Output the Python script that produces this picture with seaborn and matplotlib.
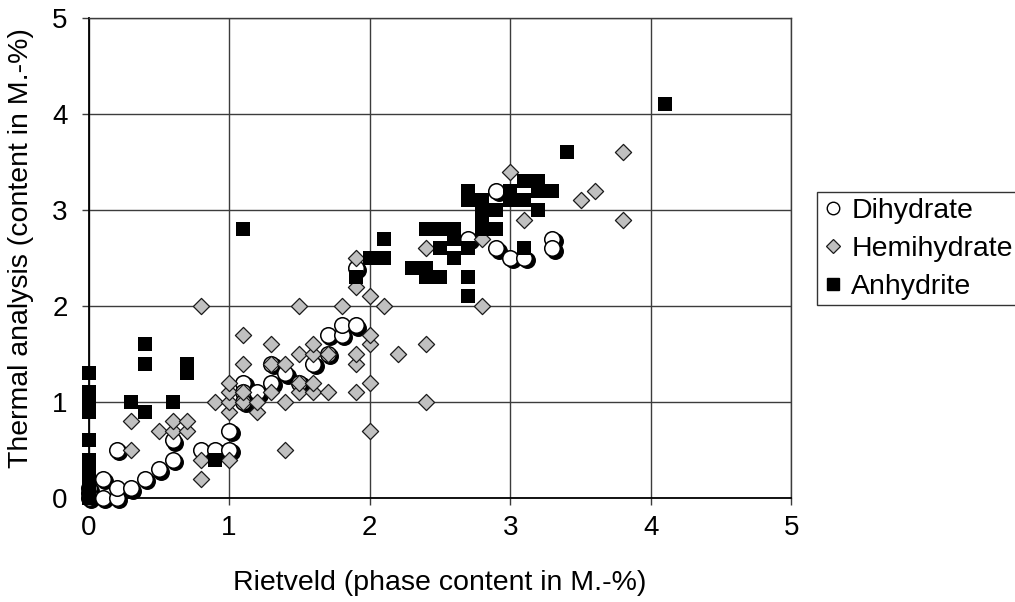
import matplotlib
matplotlib.use("Agg")
import matplotlib.pyplot as plt
import matplotlib.transforms as mtransforms
from matplotlib.lines import Line2D
import pandas as pd
import seaborn as sns

# Dihydrate: Rietveld vs. thermal analysis (M.-%)
dihydrate_x = [0.0, 0.0, 0.0, 0.1, 0.1, 0.2, 0.2, 0.2, 0.3, 0.4, 0.5, 0.6, 0.6, 0.8,
               0.9, 1.0, 1.0, 1.1, 1.1, 1.1, 1.2, 1.3, 1.3, 1.4, 1.5, 1.6, 1.7, 1.7,
               1.8, 1.8, 1.9, 1.9, 2.7, 2.9, 2.9, 3.0, 3.1, 3.3, 3.3]
dihydrate_y = [0.0, 0.05, 0.1, 0.0, 0.2, 0.0, 0.1, 0.5, 0.1, 0.2, 0.3, 0.4, 0.6, 0.5,
               0.5, 0.5, 0.7, 1.2, 1.1, 1.0, 1.1, 1.2, 1.4, 1.3, 1.2, 1.4, 1.5, 1.7,
               1.7, 1.8, 1.8, 2.4, 2.7, 2.6, 3.2, 2.5, 2.5, 2.7, 2.6]

# Hemihydrate
hemihydrate_x = [0.3, 0.3, 0.5, 0.6, 0.6, 0.7, 0.7, 0.8, 0.8, 0.8, 0.9, 1.0, 1.0, 1.0,
                 1.0, 1.0, 1.1, 1.1, 1.1, 1.1, 1.2, 1.2, 1.3, 1.3, 1.3, 1.4, 1.4, 1.4,
                 1.5, 1.5, 1.5, 1.5, 1.6, 1.6, 1.6, 1.6, 1.7, 1.7, 1.8, 1.9, 1.9, 1.9,
                 1.9, 1.9, 2.0, 2.0, 2.0, 2.0, 2.0, 2.1, 2.2, 2.4, 2.4, 2.4, 2.8, 2.8,
                 3.0, 3.1, 3.5, 3.6, 3.8, 3.8]
hemihydrate_y = [0.5, 0.8, 0.7, 0.7, 0.8, 0.7, 0.8, 0.2, 0.4, 2.0, 1.0, 0.4, 0.9, 1.0,
                 1.1, 1.2, 1.0, 1.1, 1.4, 1.7, 0.9, 1.0, 1.1, 1.4, 1.6, 0.5, 1.0, 1.4,
                 1.1, 1.2, 1.5, 2.0, 1.1, 1.2, 1.5, 1.6, 1.1, 1.5, 2.0, 1.1, 1.4, 1.5,
                 2.2, 2.5, 0.7, 1.2, 1.6, 1.7, 2.1, 2.0, 1.5, 1.0, 1.6, 2.6, 2.0, 2.7,
                 3.4, 2.9, 3.1, 3.2, 2.9, 3.6]

# Anhydrite
anhydrite_x = [0.0, 0.0, 0.0, 0.0, 0.0, 0.0, 0.0, 0.0, 0.0, 0.0, 0.0, 0.3, 0.4, 0.4,
               0.4, 0.6, 0.7, 0.7, 0.9, 1.1, 1.9, 2.0, 2.1, 2.1, 2.3, 2.4, 2.4, 2.4,
               2.5, 2.5, 2.5, 2.6, 2.6, 2.6, 2.7, 2.7, 2.7, 2.7, 2.7, 2.8, 2.8, 2.8,
               2.8, 2.9, 2.9, 3.0, 3.0, 3.1, 3.1, 3.1, 3.2, 3.2, 3.2, 3.3, 3.4, 4.1]
anhydrite_y = [0.0, 0.05, 0.1, 0.2, 0.3, 0.4, 0.6, 0.9, 1.0, 1.1, 1.3, 1.0, 0.9, 1.4,
               1.6, 1.0, 1.3, 1.4, 0.4, 2.8, 2.3, 2.5, 2.5, 2.7, 2.4, 2.8, 2.4, 2.3,
               2.8, 2.6, 2.3, 2.8, 2.7, 2.5, 3.2, 3.1, 2.6, 2.3, 2.1, 3.1, 3.0, 2.9,
               2.8, 3.0, 2.8, 3.2, 3.1, 3.3, 3.1, 2.6, 3.3, 3.2, 3.0, 3.2, 3.6, 4.1]

series_names = ["Dihydrate", "Hemihydrate", "Anhydrite"]
axis_ticks = [0, 1, 2, 3, 4, 5]

di = pd.DataFrame({"rietveld": dihydrate_x, "thermal": dihydrate_y})
hemi = pd.DataFrame({"rietveld": hemihydrate_x, "thermal": hemihydrate_y})
anhy = pd.DataFrame({"rietveld": anhydrite_x, "thermal": anhydrite_y})

sns.set_theme(style="white")
plt.rcParams["font.family"] = ["Liberation Sans", "DejaVu Sans"]

DPI = 100
fig = plt.figure(figsize=(10.15, 6.02), dpi=DPI)
ax = fig.add_axes([0.0872, 0.1728, 0.6926, 0.7973])

# drop shadow under the dihydrate circles
sns.scatterplot(data=di, x="rietveld", y="thermal", ax=ax, marker="o", s=125,
                color="black", edgecolor="black", linewidth=1.0,
                clip_on=False, legend=False, zorder=3)
shadow = ax.collections[-1]
shadow.set_offset_transform(
    mtransforms.offset_copy(ax.transData, fig=fig, x=2.5, y=-2.5, units="dots"))

sns.scatterplot(data=di, x="rietveld", y="thermal", ax=ax, marker="o", s=125,
                color="white", edgecolor="black", linewidth=1.1,
                clip_on=False, legend=False, zorder=4)
sns.scatterplot(data=hemi, x="rietveld", y="thermal", ax=ax, marker="D", s=68,
                color="#c0c0c0", edgecolor="#1a1a1a", linewidth=0.9,
                clip_on=False, legend=False, zorder=5)
sns.scatterplot(data=anhy, x="rietveld", y="thermal", ax=ax, marker="s", s=88,
                color="black", edgecolor="black", linewidth=0.0,
                clip_on=False, legend=False, zorder=6)

ax.set_xlim(0, 5)
ax.set_ylim(0, 5)
ax.set_xticks(axis_ticks)
ax.set_yticks(axis_ticks)
ax.set_xticklabels([str(t) for t in axis_ticks])
ax.set_yticklabels([str(t) for t in axis_ticks])
ax.grid(True, color="#3c3c3c", linewidth=1.0, zorder=1)
ax.set_axisbelow(True)
for side in ["top", "right"]:
    ax.spines[side].set_color("#3c3c3c")
    ax.spines[side].set_linewidth(1.0)
for side in ["left", "bottom"]:
    ax.spines[side].set_color("black")
    ax.spines[side].set_linewidth(1.3)
ax.tick_params(axis="both", direction="out", length=5, width=1, color="#3c3c3c",
               labelsize=20, labelcolor="black", bottom=True, left=True)
ax.tick_params(axis="x", pad=7)
ax.tick_params(axis="y", pad=10)

ax.set_xlabel("Rietveld (phase content in M.-%)", fontsize=20.5, color="black")
ax.set_ylabel("Thermal analysis (content in M.-%)", fontsize=20.5, color="black")
ax.xaxis.set_label_coords(0.5, -0.15)
ax.yaxis.set_label_coords(-0.078, 0.52)

handles = [
    Line2D([], [], linestyle="none", marker="o", markersize=9,
           markerfacecolor="white", markeredgecolor="black", markeredgewidth=1.0),
    Line2D([], [], linestyle="none", marker="D", markersize=7,
           markerfacecolor="#c0c0c0", markeredgecolor="#1a1a1a", markeredgewidth=0.9),
    Line2D([], [], linestyle="none", marker="s", markersize=8,
           markerfacecolor="black", markeredgecolor="black"),
]
leg = fig.legend(handles, series_names, loc="upper left",
                 bbox_to_anchor=(817 / 1015, 1 - 192 / 602),
                 bbox_transform=fig.transFigure, fontsize=20.5, frameon=True,
                 fancybox=False, borderpad=0.2, labelspacing=0.42,
                 handlelength=0.7, handletextpad=0.3, borderaxespad=0)
leg.get_frame().set_edgecolor("black")
leg.get_frame().set_linewidth(1.0)
for txt in leg.get_texts():
    txt.set_color("black")

fig.savefig("out.png", dpi=DPI)
